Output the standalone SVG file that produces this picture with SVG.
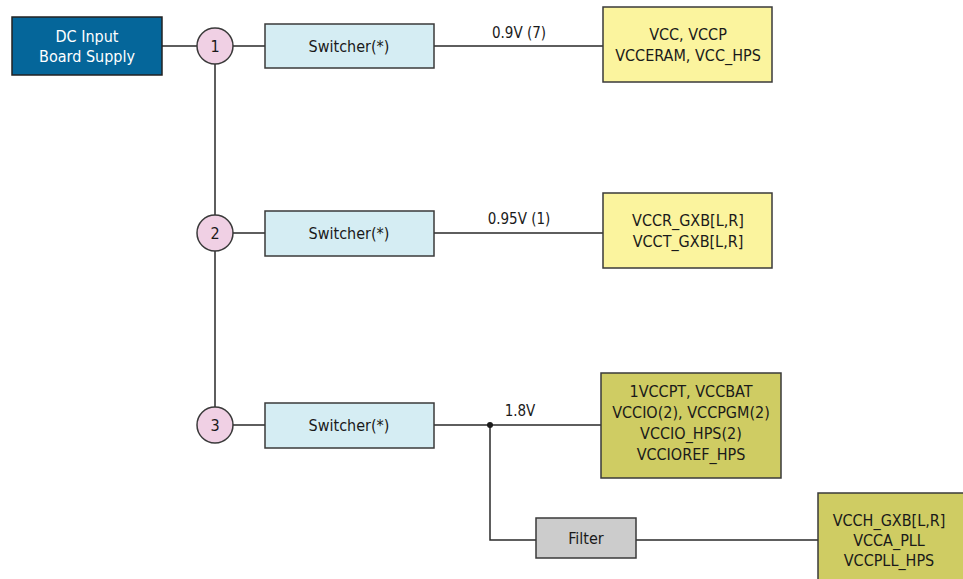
<svg xmlns="http://www.w3.org/2000/svg" width="963" height="579" viewBox="0 0 963 579">
<style>
text{font-family:"Liberation Sans Narrow","DejaVu Sans Condensed","Liberation Sans",sans-serif;font-size:16px;fill:#1a1a1a;text-anchor:middle}
.box{stroke:#3a3a3a;stroke-width:1.5}
.sw{fill:#d5edf3}
.ylw{fill:#fbf49e}
.olv{fill:#cfcc63}
.cir{fill:#f0d0e4;stroke:#3a3a3a;stroke-width:1.5}
.wire{fill:none;stroke:#2a2a2a;stroke-width:1.5}
.lbl{font-size:15px}
</style>
<rect width="963" height="579" fill="#ffffff"/>
<g id="connectors">
<path class="wire" d="M162 46H197M233 46H265M434 46H603"/>
<path class="wire" d="M215 64V215M215 251V407"/>
<path class="wire" d="M232 233H265M434 233H603"/>
<path class="wire" d="M232 425H265M434 425H601"/>
<path class="wire" d="M490 425V540H536M636 540H818"/>
<circle cx="490" cy="425" r="3" fill="#1a1a1a"/>
<text class="lbl" x="519" y="38">0.9V (7)</text>
<text class="lbl" x="519" y="224">0.95V (1)</text>
<text class="lbl" x="520" y="416">1.8V</text>
</g>
<g id="dc_input">
<rect x="12" y="17" width="150" height="58" fill="#05669a" stroke="#222" stroke-width="1.5"/>
<text x="87" y="42" style="fill:#ffffff">DC Input</text>
<text x="87" y="62" style="fill:#ffffff">Board Supply</text>
</g>
<g id="node1"><circle class="cir" cx="215" cy="46" r="18"/><text x="215" y="52">1</text></g>
<g id="node2"><circle class="cir" cx="215" cy="233" r="18"/><text x="215" y="239">2</text></g>
<g id="node3"><circle class="cir" cx="215" cy="425" r="18"/><text x="215" y="431">3</text></g>
<g id="switcher1"><rect class="box sw" x="265" y="24" width="169" height="44"/><text x="349" y="52">Switcher(*)</text></g>
<g id="switcher2"><rect class="box sw" x="265" y="211" width="169" height="45"/><text x="349" y="239">Switcher(*)</text></g>
<g id="switcher3"><rect class="box sw" x="265" y="403" width="169" height="45"/><text x="349" y="431">Switcher(*)</text></g>
<g id="rail1"><rect class="box ylw" x="603" y="7" width="169" height="75"/><text x="688" y="40">VCC, VCCP</text><text x="688" y="61">VCCERAM, VCC_HPS</text></g>
<g id="rail2"><rect class="box ylw" x="603" y="193" width="169" height="75"/><text x="688" y="226">VCCR_GXB[L,R]</text><text x="688" y="247">VCCT_GXB[L,R]</text></g>
<g id="rail3"><rect class="box olv" x="601" y="373" width="180" height="105"/><text x="691" y="397">1VCCPT, VCCBAT</text><text x="691" y="418">VCCIO(2), VCCPGM(2)</text><text x="691" y="439">VCCIO_HPS(2)</text><text x="691" y="460">VCCIOREF_HPS</text></g>
<g id="filter"><rect class="box" fill="#cccccc" x="536" y="518" width="100" height="40"/><text x="586" y="544">Filter</text></g>
<g id="rail4"><rect class="box olv" x="818" y="493" width="150" height="95"/><text x="889" y="526">VCCH_GXB[L,R]</text><text x="889" y="546">VCCA_PLL</text><text x="889" y="566">VCCPLL_HPS</text></g>
</svg>
